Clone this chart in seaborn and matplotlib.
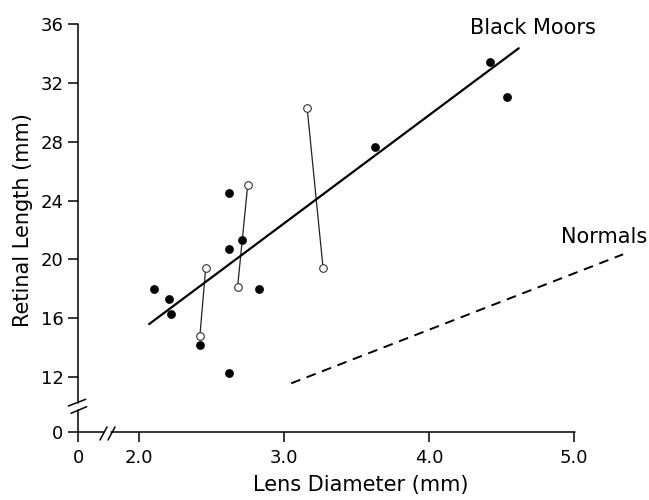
import matplotlib
matplotlib.use("Agg")
import matplotlib.pyplot as plt
from matplotlib.lines import Line2D
import seaborn as sns
import numpy as np
import pandas as pd

# values (lens diameter mm, retinal length mm)
moor_lens = [2.10, 2.21, 2.22, 2.42, 2.62, 2.62, 2.62, 2.71, 2.83, 3.63, 4.42, 4.54]
moor_retina = [18.0, 17.3, 16.3, 14.2, 12.25, 20.7, 24.5, 21.3, 18.0, 27.65, 33.4, 31.05]

# open circles, two per eye, joined by a thin line
pair_id = [1, 1, 2, 2, 3, 3]
pair_lens = [2.42, 2.46, 2.68, 2.75, 3.16, 3.27]
pair_retina = [14.8, 19.4, 18.1, 25.05, 30.3, 19.4]

# fitted line for the black moors and the line for normals
fit_lens = [2.07, 4.62]
fit_retina = [15.6, 34.35]
normal_lens = [3.05, 5.34]
normal_retina = [11.57, 20.34]

x_ticks = [0, 2, 3, 4, 5]
x_ticklabels = ["0", "2.0", "3.0", "4.0", "5.0"]
y_ticks = [0, 12, 16, 20, 24, 28, 32, 36]

# broken axes: linear above the break, squeezed below it
XB, KX = 1.8, 0.1228
YB, KY = 10.4, 0.2057


def fwd_x(v):
    v = np.asarray(v, dtype=float)
    return np.where(v >= XB, v, XB - (XB - v) * KX)


def inv_x(v):
    v = np.asarray(v, dtype=float)
    return np.where(v >= XB, v, XB - (XB - v) / KX)


def fwd_y(v):
    v = np.asarray(v, dtype=float)
    return np.where(v >= YB, v, YB - (YB - v) * KY)


def inv_y(v):
    v = np.asarray(v, dtype=float)
    return np.where(v >= YB, v, YB - (YB - v) / KY)


sns.set_theme(style="ticks")
plt.rcParams["font.family"] = ["DejaVu Sans"]
plt.rcParams["text.color"] = "black"
plt.rcParams["axes.labelcolor"] = "black"

fig = plt.figure(figsize=(6.49, 5.0), dpi=100)
ax = fig.add_axes([78 / 649, 68 / 500, 561 / 649, 408 / 500])
ax.set_xscale("function", functions=(fwd_x, inv_x))
ax.set_yscale("function", functions=(fwd_y, inv_y))

pairs = pd.DataFrame({"pair": pair_id, "lens": pair_lens, "retina": pair_retina})
sns.lineplot(data=pairs, x="lens", y="retina", units="pair", estimator=None,
             sort=False, color="#222222", lw=0.9, ax=ax, zorder=2)

fit = pd.DataFrame({"lens": fit_lens, "retina": fit_retina})
sns.lineplot(data=fit, x="lens", y="retina", color="black", lw=1.6,
             sort=False, ax=ax, zorder=3)

normals = pd.DataFrame({"lens": normal_lens, "retina": normal_retina})
sns.lineplot(data=normals, x="lens", y="retina", color="black", lw=1.4,
             sort=False, ax=ax, zorder=3, dashes=False)
ax.lines[-1].set_dashes([5, 3.5])

moors = pd.DataFrame({"lens": moor_lens, "retina": moor_retina})
sns.scatterplot(data=moors, x="lens", y="retina", color="black", s=40,
                edgecolor="black", linewidth=0, ax=ax, zorder=4)
sns.scatterplot(data=pairs, x="lens", y="retina", facecolor="white", s=30,
                edgecolor="#333333", linewidth=0.8, ax=ax, zorder=4)

ax.set_xlim(0, 5.45)
ax.set_ylim(0, 36)
ax.set_xticks(x_ticks)
ax.set_xticklabels(x_ticklabels)
ax.set_yticks(y_ticks)
ax.set_yticklabels([str(t) for t in y_ticks])
ax.minorticks_off()
ax.tick_params(axis="both", direction="out", length=7.5, width=1.1,
               color="black", labelsize=13, labelcolor="black")
ax.tick_params(axis="y", pad=3)
ax.tick_params(axis="x", pad=5)

# axis lines drawn by hand so they can carry the breaks
for s in ax.spines.values():
    s.set_visible(False)
axis_kw = dict(transform=ax.transAxes, color="black", lw=1.1, clip_on=False)
ax.add_line(Line2D([0, 0], [0, 0.0532], **axis_kw))
ax.add_line(Line2D([0, 0], [0.0723, 1.0], **axis_kw))
ax.add_line(Line2D([0, 0.0455], [0, 0], **axis_kw))
ax.add_line(Line2D([0.0597, 0.886], [0, 0], **axis_kw))
# break marks
ax.add_line(Line2D([-0.0173, 0.0137], [0.0637, 0.0801], **axis_kw))
ax.add_line(Line2D([-0.0125, 0.0155], [0.0458, 0.0620], **axis_kw))
ax.add_line(Line2D([0.0392, 0.0517], [-0.0196, 0.0123], **axis_kw))
ax.add_line(Line2D([0.0535, 0.0660], [-0.0196, 0.0123], **axis_kw))

ax.text(4.72, 35.7, "Black Moors", fontsize=15, ha="center", va="center")
ax.text(5.21, 21.5, "Normals", fontsize=15, ha="center", va="center")

ax.set_xlabel("Lens Diameter (mm)", fontsize=15)
ax.set_ylabel("Retinal Length (mm)", fontsize=15)
ax.xaxis.set_label_coords(0.504, -0.106)
ax.yaxis.set_label_coords(-0.080, 0.52)

fig.savefig("out.png", dpi=100)
